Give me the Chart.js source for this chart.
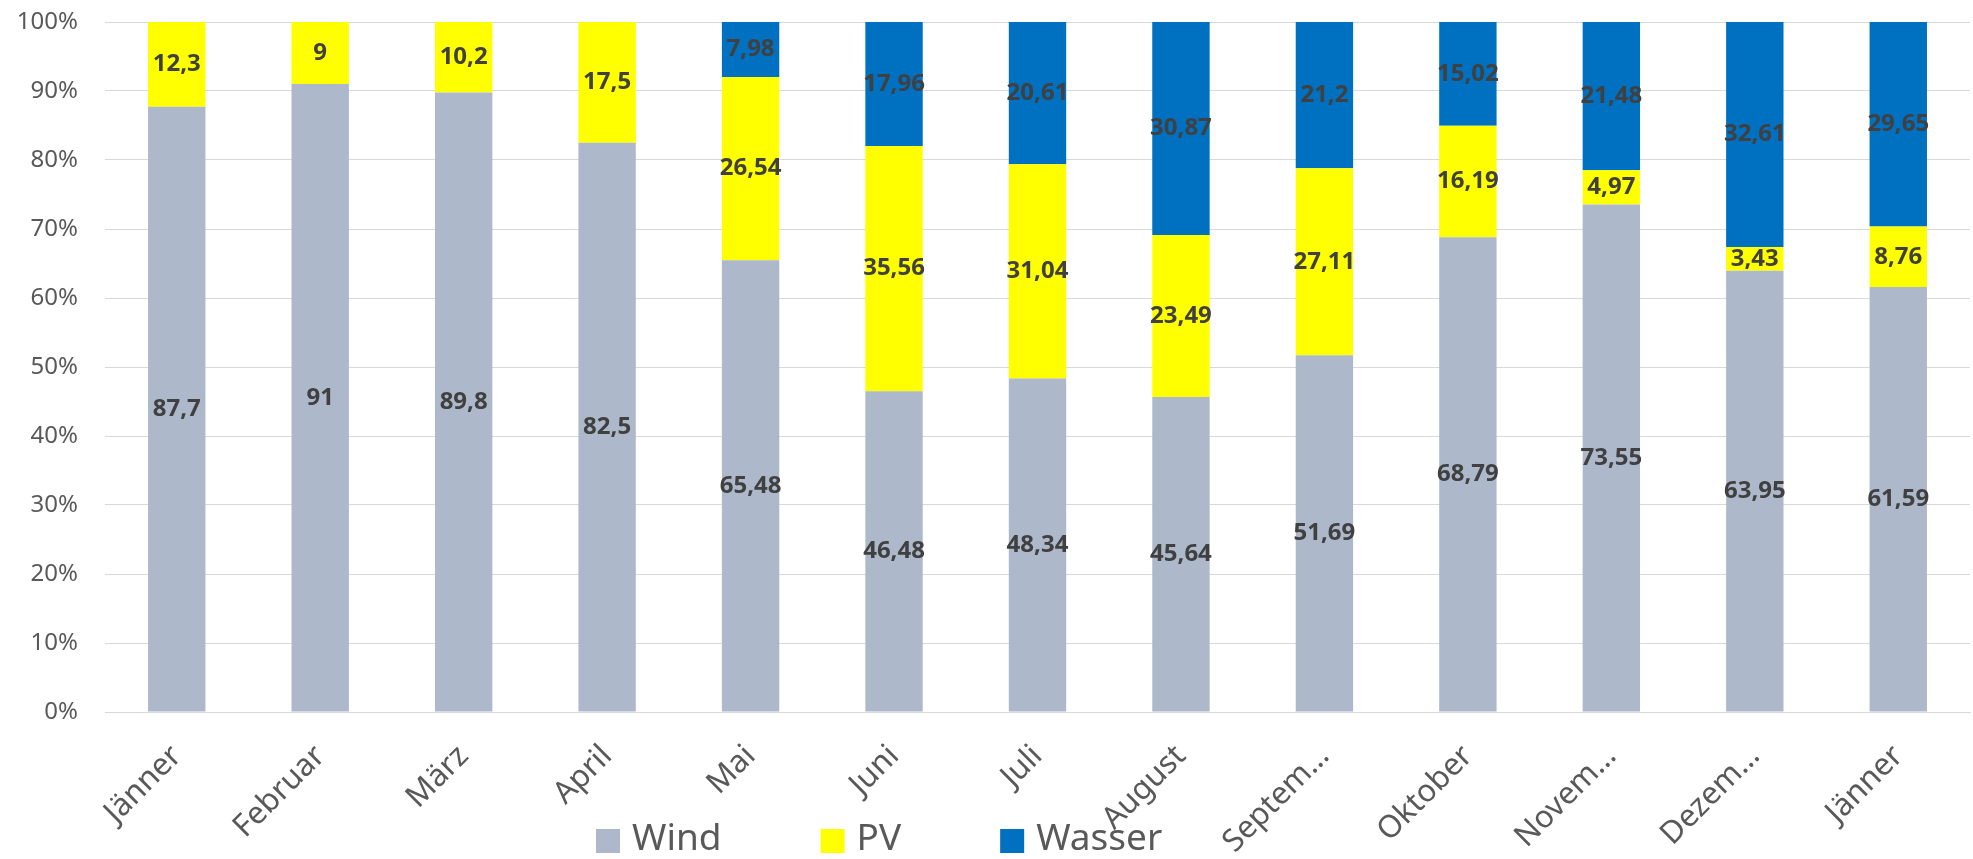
<!DOCTYPE html>
<html>
<head>
<meta charset="utf-8">
<script src="https://cdn.jsdelivr.net/npm/chart.js@4/dist/chart.umd.min.js"></script>
<style>
  html, body { margin: 0; padding: 0; background: #fff; }
  #chart { display: block; }
</style>
</head>
<body>
<canvas id="chart" width="1973" height="859"></canvas>
<script>
// Monate (x-Achse)
var months = ['Jänner', 'Februar', 'März', 'April', 'Mai', 'Juni', 'Juli', 'August',
  'Septem…', 'Oktober', 'Novem…', 'Dezem…', 'Jänner'];

// Anteile in %
var wind = [87.7, 91, 89.8, 82.5, 65.48, 46.48, 48.34, 45.64, 51.69, 68.79, 73.55, 63.95, 61.59];
var pv = [12.3, 9, 10.2, 17.5, 26.54, 35.56, 31.04, 23.49, 27.11, 16.19, 4.97, 3.43, 8.76];
var wasser = [null, null, null, null, 7.98, 17.96, 20.61, 30.87, 21.2, 15.02, 21.48, 32.61, 29.65];

var yTicks = [0, 10, 20, 30, 40, 50, 60, 70, 80, 90, 100];

var FONT = '"Noto Sans", "Open Sans", sans-serif';

// Werte mittig in die Segmente schreiben
var valueLabels = {
  id: 'valueLabels',
  afterDatasetsDraw: function (chart) {
    var ctx = chart.ctx;
    ctx.save();
    ctx.font = 'bold 24px ' + FONT;
    ctx.fillStyle = '#404040';
    ctx.textAlign = 'center';
    ctx.textBaseline = 'middle';
    chart.data.datasets.forEach(function (ds, i) {
      var meta = chart.getDatasetMeta(i);
      meta.data.forEach(function (bar, j) {
        var v = ds.data[j];
        if (v === null || v === undefined) return;
        ctx.fillText(String(v).replace('.', ','), bar.x, (bar.y + bar.base) / 2);
      });
    });
    ctx.restore();
  }
};

// Legende unten, wie im Excel-Original etwas links der Mitte
var bottomLegend = {
  id: 'bottomLegend',
  afterDraw: function (chart) {
    var ctx = chart.ctx;
    ctx.save();
    ctx.font = '37px ' + FONT;
    ctx.textBaseline = 'middle';
    var x = 596, y = 841;
    chart.data.datasets.forEach(function (ds) {
      ctx.fillStyle = ds.backgroundColor;
      ctx.fillRect(x, y - 12, 24, 24);
      ctx.fillStyle = '#595959';
      ctx.fillText(ds.label, x + 36, y - 2);
      x += 36 + ctx.measureText(ds.label).width + 99;
    });
    ctx.restore();
  }
};

new Chart(document.getElementById('chart'), {
  type: 'bar',
  data: {
    labels: months,
    datasets: [
      { label: 'Wind', data: wind, backgroundColor: '#ADB9CA' },
      { label: 'PV', data: pv, backgroundColor: '#FFFF00' },
      { label: 'Wasser', data: wasser, backgroundColor: '#0070C0' }
    ]
  },
  options: {
    responsive: false,
    animation: false,
    devicePixelRatio: 1,
    layout: { padding: { left: 0, right: 3, top: 22, bottom: 0 } },
    datasets: {
      bar: { barPercentage: 0.4, categoryPercentage: 1, borderWidth: 0 }
    },
    plugins: {
      legend: { display: false },
      tooltip: { enabled: false }
    },
    scales: {
      x: {
        stacked: true,
        grid: { display: false },
        border: { display: true, color: '#d9d9d9', width: 1 },
        ticks: {
          autoSkip: false,
          minRotation: 45,
          maxRotation: 45,
          padding: 18,
          color: '#595959',
          font: { family: FONT, size: 31 }
        },
        afterFit: function (scale) {
          scale.height = 147;
          scale.paddingLeft = 0;
          scale.paddingRight = 0;
        }
      },
      y: {
        stacked: true,
        min: 0,
        max: 100,
        afterBuildTicks: function (scale) {
          scale.ticks = yTicks.map(function (v) { return { value: v }; });
        },
        grid: { color: '#d9d9d9', lineWidth: 1, drawTicks: false },
        border: { display: false },
        ticks: {
          padding: 27,
          color: '#595959',
          font: { family: FONT, size: 24 },
          callback: function (v) { return v + '%'; }
        },
        afterFit: function (scale) {
          scale.width = 105;
          scale.paddingTop = 0;
          scale.paddingBottom = 0;
        }
      }
    }
  },
  plugins: [valueLabels, bottomLegend]
});
</script>
</body>
</html>
